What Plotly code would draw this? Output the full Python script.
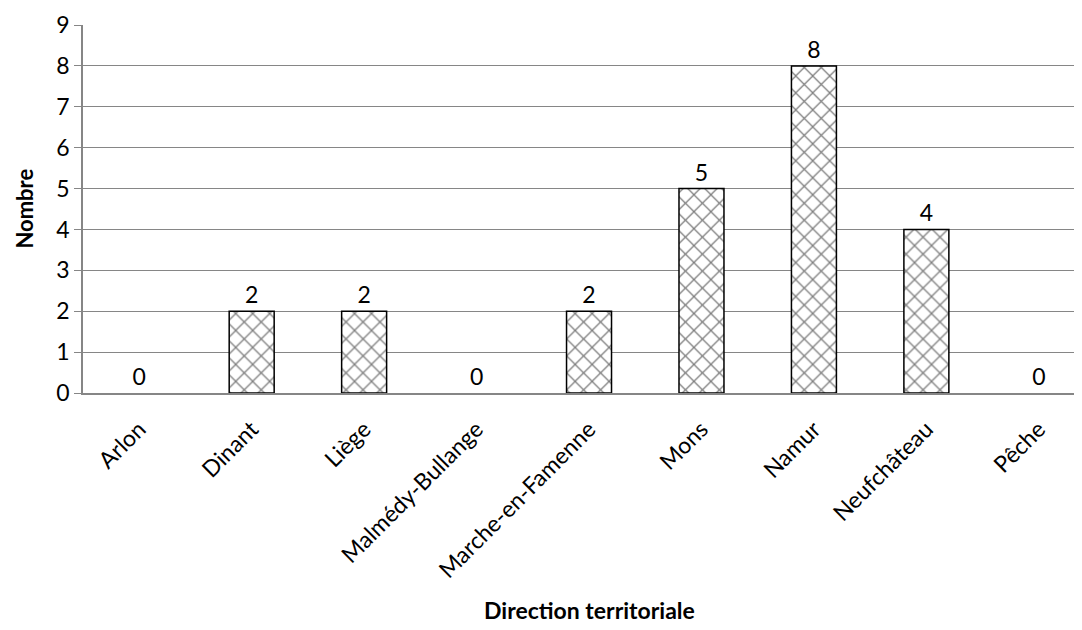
import plotly.graph_objects as go

categories = ["Arlon", "Dinant", "Liège", "Malmédy-Bullange", "Marche-en-Famenne",
              "Mons", "Namur", "Neufchâteau", "Pêche"]
values = [0, 2, 2, 0, 2, 5, 8, 4, 0]
y_ticks = list(range(0, 10))

FONT = "Lato"
FS = 23

fig = go.Figure()
fig.add_trace(go.Bar(
    x=categories, y=values,
    width=0.4,
    marker=dict(
        color="white",
        line=dict(color="black", width=[0 if v == 0 else 1.5 for v in values]),
        pattern=dict(shape="x", fgcolor="black", bgcolor="white", size=12, solidity=0.2),
    ),
    text=[str(v) for v in values],
    textposition="outside",
    textfont=dict(family=FONT, size=FS, color="black"),
    cliponaxis=False,
))

fig.update_layout(
    width=1082, height=630,
    margin=dict(l=75, r=0, t=17, b=245, autoexpand=False),
    plot_bgcolor="white", paper_bgcolor="white",
    showlegend=False,
    font=dict(family=FONT, size=FS, color="black"),
    xaxis=dict(
        range=[-0.5, 8.455],
        tickangle=-45,
        showgrid=False,
        showline=True, linecolor="#868686", linewidth=1.5,
        ticks="", ticklabelstandoff=12,
        tickfont=dict(family=FONT, size=FS, color="black"),
        automargin=False,
    ),
    yaxis=dict(
        range=[0, 9],
        tickvals=y_ticks,
        ticksuffix="\u2007",
        showgrid=True, gridcolor="#868686", gridwidth=1.2,
        showline=True, linecolor="#868686", linewidth=1.5,
        ticks="outside", ticklen=7, tickcolor="#868686",
        tickfont=dict(family=FONT, size=FS, color="black"),
        zeroline=False,
        automargin=False,
    ),
    annotations=[
        dict(text="<b>Nombre</b>", xref="paper", yref="paper", x=-0.059, y=0.5,
             xanchor="center", yanchor="middle", textangle=-90, showarrow=False,
             font=dict(family=FONT, size=22, color="black")),
        dict(text="<b>Direction territoriale</b>", xref="paper", yref="paper",
             x=0.503, y=-0.59, xanchor="center", yanchor="middle", showarrow=False,
             font=dict(family=FONT, size=FS, color="black")),
    ],
)

fig.write_html("out.html")
